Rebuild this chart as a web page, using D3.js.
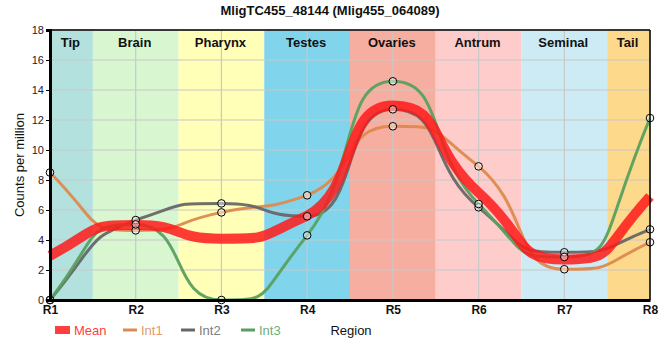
<!DOCTYPE html>
<html><head><meta charset="utf-8">
<script src="https://cdn.jsdelivr.net/npm/d3@7"></script>
<style>body{margin:0;background:#fff;} svg{font-family:"Liberation Sans",Arial,sans-serif;}</style>
</head><body><svg id="c" width="660" height="360"></svg>
<script>
const regions = ["R1","R2","R3","R4","R5","R6","R7","R8"];
const bandNames = ["Tip","Brain","Pharynx","Testes","Ovaries","Antrum","Seminal","Tail"];
const bandColors = ["#b3e2de","#d8f6d0","#ffffb8","#80d4ec","#f6aea1","#ffcccc","#cdebf5","#fdd98b"];
const yTicks = [0,2,4,6,8,10,12,14,16,18];
const int1 = [8.5, 4.64, 5.84, 6.98, 11.58, 8.91, 2.05, 3.85];
const int2 = [0, 5.33, 6.44, 5.58, 12.71, 6.18, 3.18, 4.71];
const int3 = [0, 5.04, 0, 4.31, 14.58, 6.4, 2.87, 12.13];
const mean = [2.95, 5.0, 4.09, 5.62, 12.96, 7.16, 2.7, 6.9];
const title = "MligTC455_48144 (Mlig455_064089)";

// smooth monotone curve with long, clamped handles (curve style only)
function SoftCurve(context){ this._context = context; }
SoftCurve.prototype = {
  areaStart(){}, areaEnd(){},
  lineStart(){ this._x=[]; this._y=[]; },
  point(x,y){ this._x.push(+x); this._y.push(+y); },
  lineEnd(){
    const X=this._x, Y=this._y, n=X.length, ctx=this._context, k=0.6;
    if(!n) return;
    ctx.moveTo(X[0],Y[0]);
    if(n<2) return;
    const s=[]; for(let i=0;i<n-1;i++) s.push((Y[i+1]-Y[i])/(X[i+1]-X[i]));
    const m=new Array(n).fill(0);
    for(let i=1;i<n-1;i++){
      if(s[i-1]*s[i]<=0){ m[i]=0; continue; }
      const h0=X[i]-X[i-1], h1=X[i+1]-X[i];
      const p=(s[i-1]*h1+s[i]*h0)/(h0+h1);
      m[i]=(Math.sign(s[i-1])+Math.sign(s[i]))*Math.min(Math.abs(s[i-1]),Math.abs(s[i]),0.5*Math.abs(p));
    }
    m[0] = n>2 ? (3*s[0]-m[1])/2 : s[0];
    m[n-1] = n>2 ? (3*s[n-2]-m[n-2])/2 : s[0];
    for(let i=0;i<n-1;i++){
      const h=X[i+1]-X[i];
      const lo=Math.min(Y[i],Y[i+1]), hi=Math.max(Y[i],Y[i+1]);
      const cl=v=>Math.max(lo,Math.min(hi,v));
      ctx.bezierCurveTo(X[i]+k*h, cl(Y[i]+m[i]*k*h), X[i+1]-k*h, cl(Y[i+1]-m[i+1]*k*h), X[i+1], Y[i+1]);
    }
  }
};
const softCurve = ctx => new SoftCurve(ctx);

const svg = d3.select("#c");
const L=50, R=650, T=30, B=300;
const x = d3.scalePoint().domain(regions).range([L,R]);
const y = d3.scaleLinear().domain([0,18]).range([B,T]);
const step = x.step();

// bands
regions.forEach((r,i)=>{
  const x0 = Math.max(L, x(r)-step/2), x1 = Math.min(R, x(r)+step/2);
  svg.append("rect").attr("x",x0).attr("y",T).attr("width",x1-x0).attr("height",B-T).attr("fill",bandColors[i]);
});
// grid
svg.append("g").selectAll("line").data(yTicks).join("line")
  .attr("x1",L).attr("x2",R).attr("y1",d=>y(d)).attr("y2",d=>y(d))
  .attr("stroke","#c8c8c8").attr("stroke-width",1.2);
svg.append("g").selectAll("line").data(regions).join("line")
  .attr("x1",d=>x(d)).attr("x2",d=>x(d)).attr("y1",T).attr("y2",B)
  .attr("stroke","#c8c8c8").attr("stroke-width",1.2);
// band labels
regions.forEach((r,i)=>{
  const x0 = Math.max(L, x(r)-step/2), x1 = Math.min(R, x(r)+step/2);
  svg.append("text").attr("x",(x0+x1)/2-1).attr("y",T+17).attr("text-anchor","middle")
    .attr("font-size",13).attr("font-weight","bold").attr("fill","#111").text(bandNames[i]);
});

// lines
const line = d3.line().x((d,i)=>x(regions[i])).y(d=>y(d)).curve(softCurve);
const series = [
  {name:"Int1", v:int1, c:"#dd8a4f"},
  {name:"Int2", v:int2, c:"#676767"},
  {name:"Int3", v:int3, c:"#58a05f"}
];
series.forEach(s=>{
  svg.append("path").attr("d",line(s.v)).attr("fill","none").attr("stroke",s.c)
    .attr("stroke-width",3).attr("stroke-opacity",0.95);
});
svg.append("path").attr("d",line(mean)).attr("fill","none").attr("stroke","#ff1a1a")
  .attr("stroke-width",10).attr("stroke-opacity",0.85);
// points
series.forEach(s=>{
  svg.append("g").selectAll("circle").data(s.v).join("circle")
    .attr("cx",(d,i)=>x(regions[i])).attr("cy",d=>y(d)).attr("r",3.8)
    .attr("fill","#fff").attr("fill-opacity",0.45).attr("stroke","#000").attr("stroke-width",1);
});

// frame
svg.append("line").attr("x1",L).attr("x2",R).attr("y1",T).attr("y2",T).attr("stroke","#000").attr("stroke-width",1.5);
svg.append("line").attr("x1",R).attr("x2",R).attr("y1",T).attr("y2",B).attr("stroke","#000").attr("stroke-width",1.5);
// axes
const ya = svg.append("g").attr("transform",`translate(${L},0)`)
  .call(d3.axisLeft(y).tickValues(yTicks).tickSize(4).tickFormat(d3.format("d")));
ya.select(".domain").attr("stroke","#000").attr("stroke-width",3);
ya.selectAll("text").attr("font-size",11).attr("fill","#1a1a2e").attr("font-family","Liberation Sans, Arial, sans-serif").attr("dx",1);
const xa = svg.append("g").attr("transform",`translate(0,${B})`)
  .call(d3.axisBottom(x).tickSize(0).tickPadding(5));
xa.select(".domain").attr("stroke","#000").attr("stroke-width",3);
xa.selectAll("text").attr("font-size",12).attr("font-weight","bold").attr("fill","#111").attr("font-family","Liberation Sans, Arial, sans-serif");

// title and axis labels
svg.append("text").attr("x",330).attr("y",15).attr("text-anchor","middle").attr("font-size",13)
  .attr("font-weight","bold").attr("fill","#111").text(title);
svg.append("text").attr("transform","translate(24,165) rotate(-90)").attr("text-anchor","middle")
  .attr("font-size",13).attr("fill","#111").text("Counts per million");
svg.append("text").attr("x",351).attr("y",335).attr("text-anchor","middle").attr("font-size",13)
  .attr("fill","#111").text("Region");

// legend
const leg = svg.append("g");
leg.append("rect").attr("x",55).attr("y",326).attr("width",15).attr("height",8).attr("fill","#ff2a2a").attr("opacity",0.9);
leg.append("text").attr("x",74).attr("y",335).attr("font-size",13).attr("fill","#ff4040").text("Mean");
const legItems = [{n:"Int1",c:"#dd8a4f",x:123},{n:"Int2",c:"#676767",x:181},{n:"Int3",c:"#58a05f",x:241}];
legItems.forEach(d=>{
  leg.append("line").attr("x1",d.x).attr("x2",d.x+14).attr("y1",330).attr("y2",330).attr("stroke",d.c).attr("stroke-width",3);
  leg.append("text").attr("x",d.x+18).attr("y",335).attr("font-size",13).attr("fill",d.c).attr("opacity",0.85).text(d.n);
});
</script></body></html>
